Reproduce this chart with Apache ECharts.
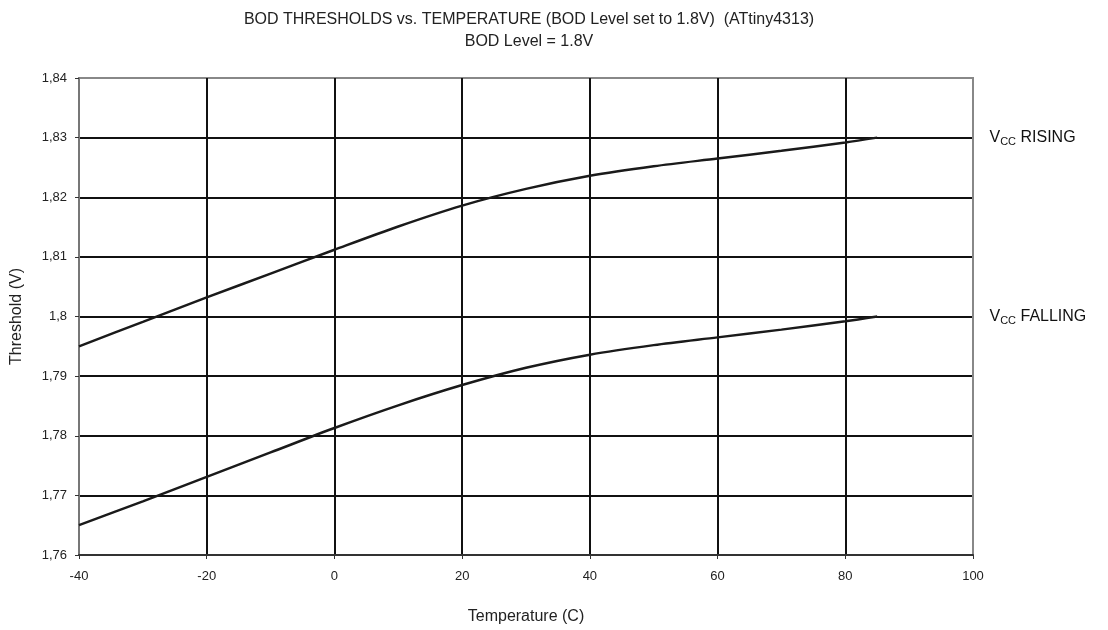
<!DOCTYPE html>
<html><head><meta charset="utf-8">
<script src="https://cdn.jsdelivr.net/npm/echarts@6/dist/echarts.min.js"></script>
<style>html,body{margin:0;padding:0;background:#fff}#c{width:1108px;height:630px}</style>
</head><body><div id="c"></div>
<script>
const temps = [-40, -30, -20, -10, 0, 10, 20, 30, 40, 50, 60, 70, 80, 85];
const vccRising  = [1.7950, 1.7991, 1.8032, 1.8072, 1.8112, 1.8151, 1.8186, 1.8214, 1.8236, 1.8252, 1.8265, 1.8278, 1.8292, 1.8300];
const vccFalling = [1.7650, 1.7690, 1.7731, 1.7772, 1.7813, 1.7851, 1.7885, 1.7914, 1.7936, 1.7952, 1.7965, 1.7978, 1.7992, 1.8000];
const seriesNames = ['RISING', 'FALLING'];
const labelAnchors = [[100, 1.83], [100, 1.80]];
const titleLines = ['BOD THRESHOLDS vs. TEMPERATURE (BOD Level set to 1.8V)  (ATtiny4313)', 'BOD Level = 1.8V'];

const font = 'Liberation Sans, Arial, sans-serif';
const chart = echarts.init(document.getElementById('c'));
const ySplitColors = ['#333', '#111', '#111', '#111', '#111', '#111', '#111', '#111', '#888'];
const xSplitColors = ['#777', '#111', '#111', '#111', '#111', '#111', '#111', '#888'];

function mkSeries(name, vals) {
  return {
    type: 'line', name: name, smooth: 0.3, showSymbol: false, symbol: 'none',
    data: temps.map((t, i) => [t, vals[i]]),
    lineStyle: {color: '#1a1a1a', width: 2.5},
    z: 5
  };
}
function mkLabel(name, anchor) {
  return {
    type: 'scatter', name: name + ' label', silent: true,
    symbol: 'circle', symbolSize: 1, itemStyle: {color: 'rgba(0,0,0,0)'},
    data: [anchor], z: 6,
    label: {
      show: true, position: 'right', distance: 16, color: '#111', opacity: 1,
      formatter: '{v|V}{s|CC}{v| ' + name + '}',
      rich: {
        v: {fontFamily: font, fontSize: 16, color: '#111'},
        s: {fontFamily: font, fontSize: 11, color: '#111', padding: [8, 0, 0, 0]}
      }
    }
  };
}

chart.setOption({
  animation: false,
  backgroundColor: '#fff',
  title: {
    text: titleLines.join('\n'), left: 524, top: 4, textAlign: 'center',
    textStyle: {fontFamily: font, fontSize: 16, fontWeight: 'normal', color: '#222', lineHeight: 22}
  },
  grid: {left: 79, right: 135, top: 78, bottom: 75, show: true, borderColor: '#888', borderWidth: 2, containLabel: false},
  xAxis: {
    type: 'value', min: -40, max: 100, interval: 20,
    name: 'Temperature (C)', nameLocation: 'middle', nameGap: 54,
    nameTextStyle: {fontFamily: font, fontSize: 16, color: '#222'},
    axisLine: {show: true, onZero: false, lineStyle: {color: '#333', width: 2}},
    axisTick: {show: true, length: 4, lineStyle: {color: '#333', width: 1}},
    axisLabel: {fontFamily: font, fontSize: 13, color: '#222', margin: 15},
    splitLine: {show: true, lineStyle: {color: xSplitColors, width: 2}}
  },
  yAxis: {
    type: 'value', min: 1.76, max: 1.84, interval: 0.01,
    name: 'Threshold (V)', nameLocation: 'middle', nameGap: 54,
    nameTextStyle: {fontFamily: font, fontSize: 16, color: '#222'},
    axisLine: {show: true, onZero: false, lineStyle: {color: '#777', width: 2}},
    axisTick: {show: true, length: 4, lineStyle: {color: '#333', width: 1}},
    axisLabel: {fontFamily: font, fontSize: 13, color: '#222', margin: 12,
      formatter: v => String(Math.round(v * 100) / 100).replace('.', ',')},
    splitLine: {show: true, lineStyle: {color: ySplitColors, width: 2}}
  },
  series: [
    mkSeries(seriesNames[0], vccRising),
    mkSeries(seriesNames[1], vccFalling),
    mkLabel(seriesNames[0], labelAnchors[0]),
    mkLabel(seriesNames[1], labelAnchors[1])
  ]
});
</script></body></html>
